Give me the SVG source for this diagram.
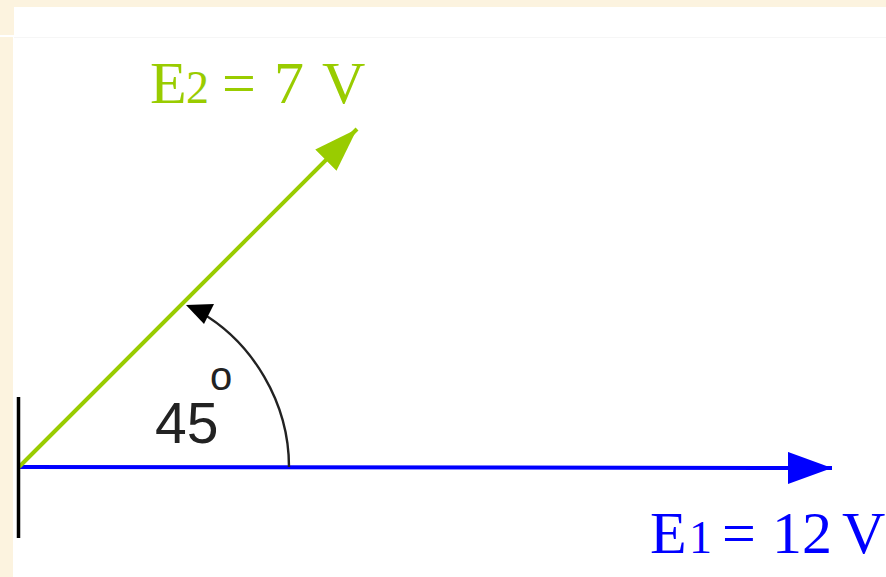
<svg xmlns="http://www.w3.org/2000/svg" width="886" height="577" viewBox="0 0 886 577">
  <style>
    .serif { font-family: "Liberation Serif", "Times New Roman", serif; }
    .sans { font-family: "Liberation Sans", Arial, sans-serif; }
    .green { fill: #99cc00; }
    .blue { fill: #0000ff; }
  </style>
  <defs>
    <marker id="headBlue" markerUnits="userSpaceOnUse" markerWidth="46" markerHeight="34" refX="44" refY="16" orient="auto" viewBox="0 0 46 34">
      <path d="M0,0 L44,16 L0,32 Z" fill="#0000ff"/>
    </marker>
    <marker id="headGreen" markerUnits="userSpaceOnUse" markerWidth="46" markerHeight="34" refX="44" refY="16" orient="auto" viewBox="0 0 46 34">
      <path d="M0,1 L44,16 L0,31 Z" fill="#99cc00"/>
    </marker>
  </defs>
  <!-- background -->
  <rect x="0" y="0" width="886" height="577" fill="#ffffff"/>
  <rect x="0" y="0" width="886" height="7" fill="#fcf3df"/>
  <rect x="0" y="0" width="14" height="35" fill="#fcf3df"/>
  <rect x="0" y="37" width="13" height="540" fill="#fcf3df"/>
  <line x1="14" y1="37.5" x2="886" y2="37.5" stroke="#f6f6f6" stroke-width="1"/>

  <g id="connectors">
    <line id="e1-vector" x1="19" y1="467" x2="832" y2="468" stroke="#0000ff" stroke-width="4" marker-end="url(#headBlue)"/>
    <line id="e2-vector" x1="19" y1="467" x2="357" y2="129" stroke="#99cc00" stroke-width="4" marker-end="url(#headGreen)"/>
    <path id="angle-arc" d="M289,467 C289,402 252,342 200,312" fill="none" stroke="#222222" stroke-width="2.4"/>
    <path d="M186,305 L214,304 L204,324 Z" fill="#000000"/>
  </g>

  <g id="origin">
    <line x1="18.5" y1="397" x2="18.5" y2="538" stroke="#000000" stroke-width="3.5"/>
  </g>

  <g id="label-e2">
    <text class="serif green" y="103" font-size="60"><tspan x="150">E</tspan><tspan x="186" font-size="46">2</tspan><tspan x="222">=</tspan><tspan x="274">7</tspan><tspan x="322">V</tspan></text>
  </g>

  <g id="label-e1">
    <text class="serif blue" y="553" font-size="60"><tspan x="650">E</tspan><tspan x="689" font-size="46">1</tspan><tspan x="722">=</tspan><tspan x="772">12</tspan><tspan x="842">V</tspan></text>
  </g>

  <g id="angle-label">
    <text class="sans" x="155" y="443" font-size="57" fill="#222222">45</text>
    <text class="sans" x="210" y="390" font-size="40" fill="#222222">o</text>
  </g>
</svg>
